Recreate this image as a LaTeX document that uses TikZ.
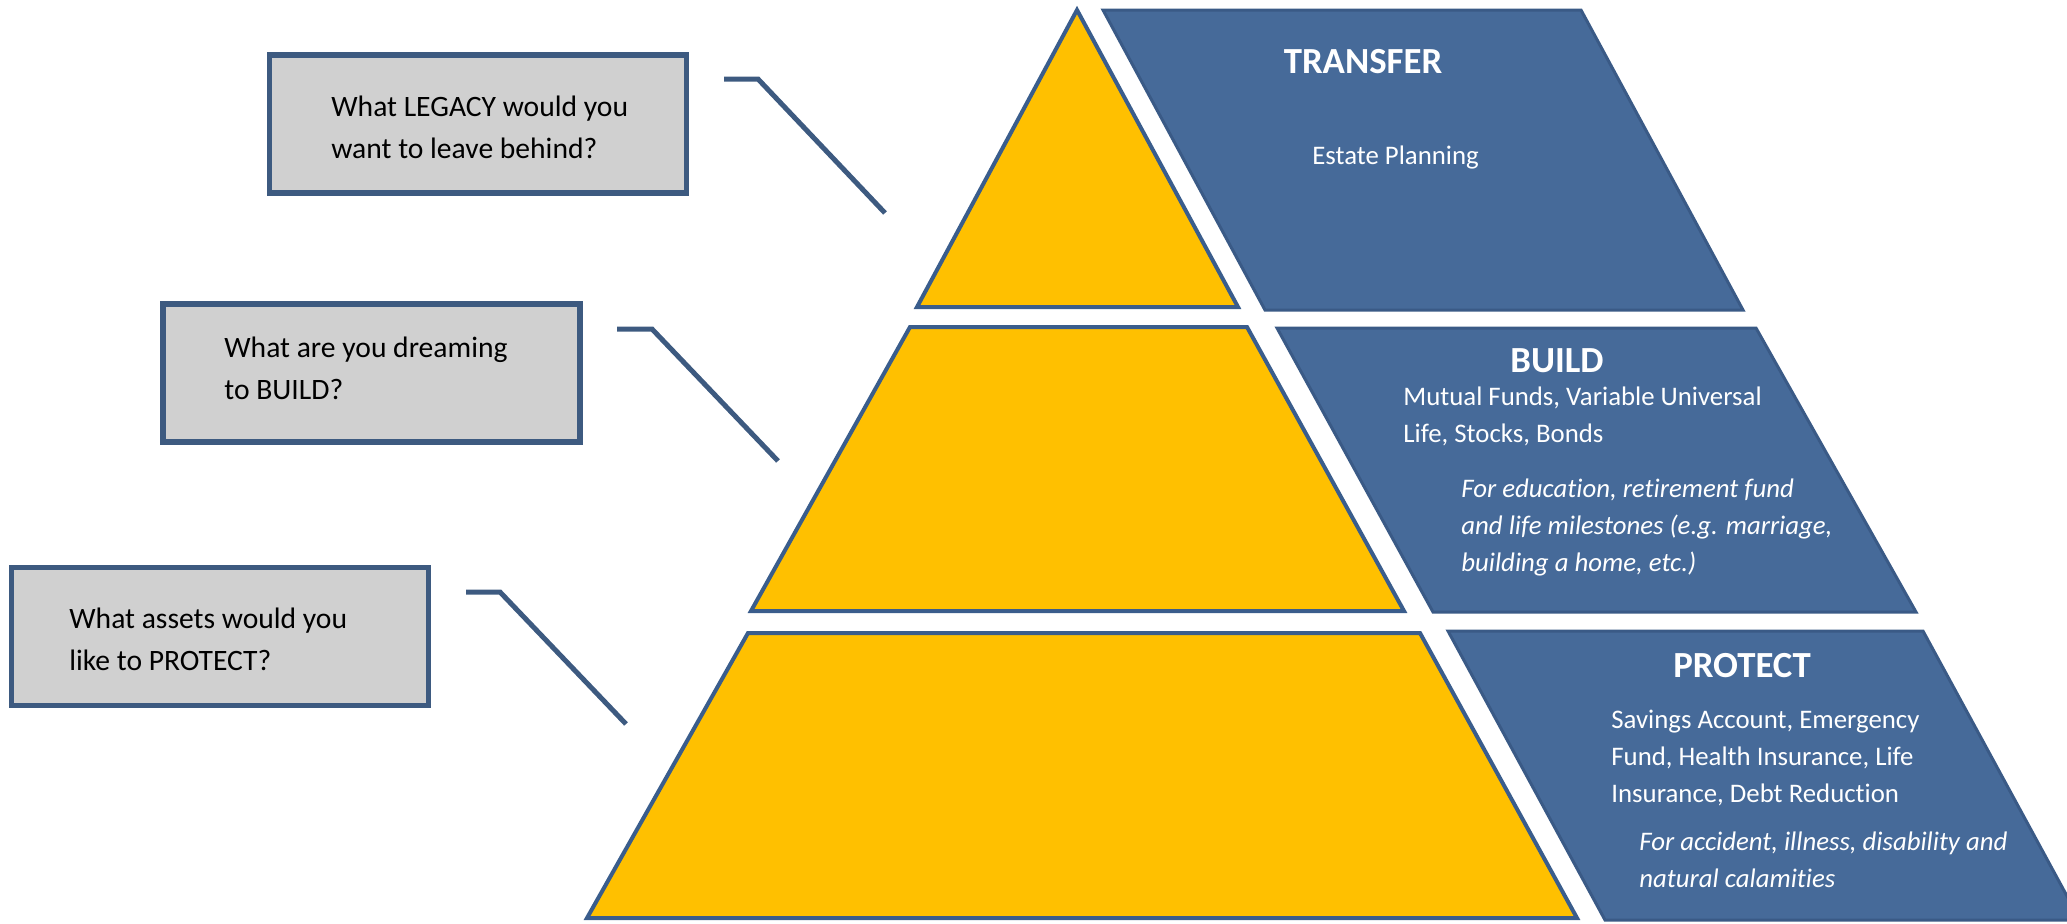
\documentclass[tikz,border=0pt]{standalone}
\usepackage{fontspec}
\setmainfont{Carlito}[Ligatures=NoCommon]
\definecolor{pyryellow}{HTML}{FFC000}
\definecolor{pyrborder}{HTML}{3A5D8C}
\definecolor{bluefill}{HTML}{466A99}
\definecolor{blueborder}{HTML}{3A5A86}
\definecolor{boxfill}{HTML}{D0D0D0}
\definecolor{boxborder}{HTML}{3D5A80}
\tikzset{
  tier/.style={fill=pyryellow, draw=pyrborder, line width=2pt, line join=miter},
  band/.style={fill=bluefill, draw=blueborder, line width=1.5pt, line join=miter},
  qbox/.style={rectangle, fill=boxfill, draw=boxborder, line width=2.75pt,
    minimum width=208.5pt, minimum height=69pt, inner sep=0pt},
  qtext/.style={anchor=west, align=left, inner sep=0pt, text=black,
    font=\fontsize{14.8pt}{21pt}\selectfont},
  title/.style={inner sep=0pt, text=white, font=\fontsize{18.4pt}{22pt}\selectfont\bfseries},
  body/.style={anchor=west, align=left, inner sep=0pt, text=white,
    font=\fontsize{13.4pt}{18.5pt}\selectfont},
  ibody/.style={body, font=\fontsize{13.4pt}{18.5pt}\selectfont\itshape},
  leader/.style={draw=boxborder, line width=2.5pt, line join=miter},
}
\begin{document}
\begin{tikzpicture}[x=0.5pt,y=-0.5pt]
\useasboundingbox (0,0) rectangle (2067,923);
\begin{scope}
\clip (0,0) rectangle (2067,923);
% pyramid tiers
\filldraw[tier] (1077,10) -- (1238,307) -- (917,307) -- cycle;
\filldraw[tier] (910,327) -- (1247,327) -- (1404,611) -- (751,611) -- cycle;
\filldraw[tier] (748,633) -- (1420,633) -- (1577,918) -- (587,918) -- cycle;
% blue bands
\filldraw[band] (1103,10) -- (1581,10) -- (1743,310) -- (1265,310) -- cycle;
\filldraw[band] (1277,328) -- (1756,328) -- (1916,612) -- (1433,612) -- cycle;
\filldraw[band] (1448,631) -- (1923,631) -- (2080,920) -- (1605,920) -- cycle;
\end{scope}
% question boxes
\node[qbox] (legacybox) at (478,124) {};
\node[qbox] (buildbox) at (371.5,373) {};
\node[qbox] (protectbox) at (220,636.5) {};
\node[qtext] (legacytext) at (331,127) {What LEGACY would you\\want to leave behind?};
\node[qtext] (buildtext) at (224,368) {What are you dreaming\\to BUILD?};
\node[qtext] (protecttext) at (69,639) {What assets would you\\like to PROTECT?};
% leader lines
\coordinate (l1a) at (724,79);
\coordinate (l1b) at (758,79);
\coordinate (l1c) at (885,213);
\coordinate (l2a) at (617,329);
\coordinate (l2b) at (652,329);
\coordinate (l2c) at (778,461);
\coordinate (l3a) at (466,592);
\coordinate (l3b) at (500,592);
\coordinate (l3c) at (626,724);
\draw[leader] (l1a) -- (l1b) -- (l1c);
\draw[leader] (l2a) -- (l2b) -- (l2c);
\draw[leader] (l3a) -- (l3b) -- (l3c);
% band texts
\node[title] (transfer) at (1363,62) {TRANSFER};
\node[body] (estate) at (1312,157) {Estate Planning};
\node[title] (build) at (1557,361) {BUILD};
\node[body] (buildlist) at (1403,416) {Mutual Funds, Variable Universal\\Life, Stocks, Bonds};
\node[ibody] (buildfor) at (1461,527) {For education, retirement fund\\and life milestones (e.g. marriage,\\building a home, etc.)};
\node[title] (protect) at (1742,666) {PROTECT};
\node[body] (protectlist) at (1611,758) {Savings Account, Emergency\\Fund, Health Insurance, Life\\Insurance, Debt Reduction};
\node[ibody] (protectfor) at (1639,860) {For accident, illness, disability and\\natural calamities};
\end{tikzpicture}
\end{document}
